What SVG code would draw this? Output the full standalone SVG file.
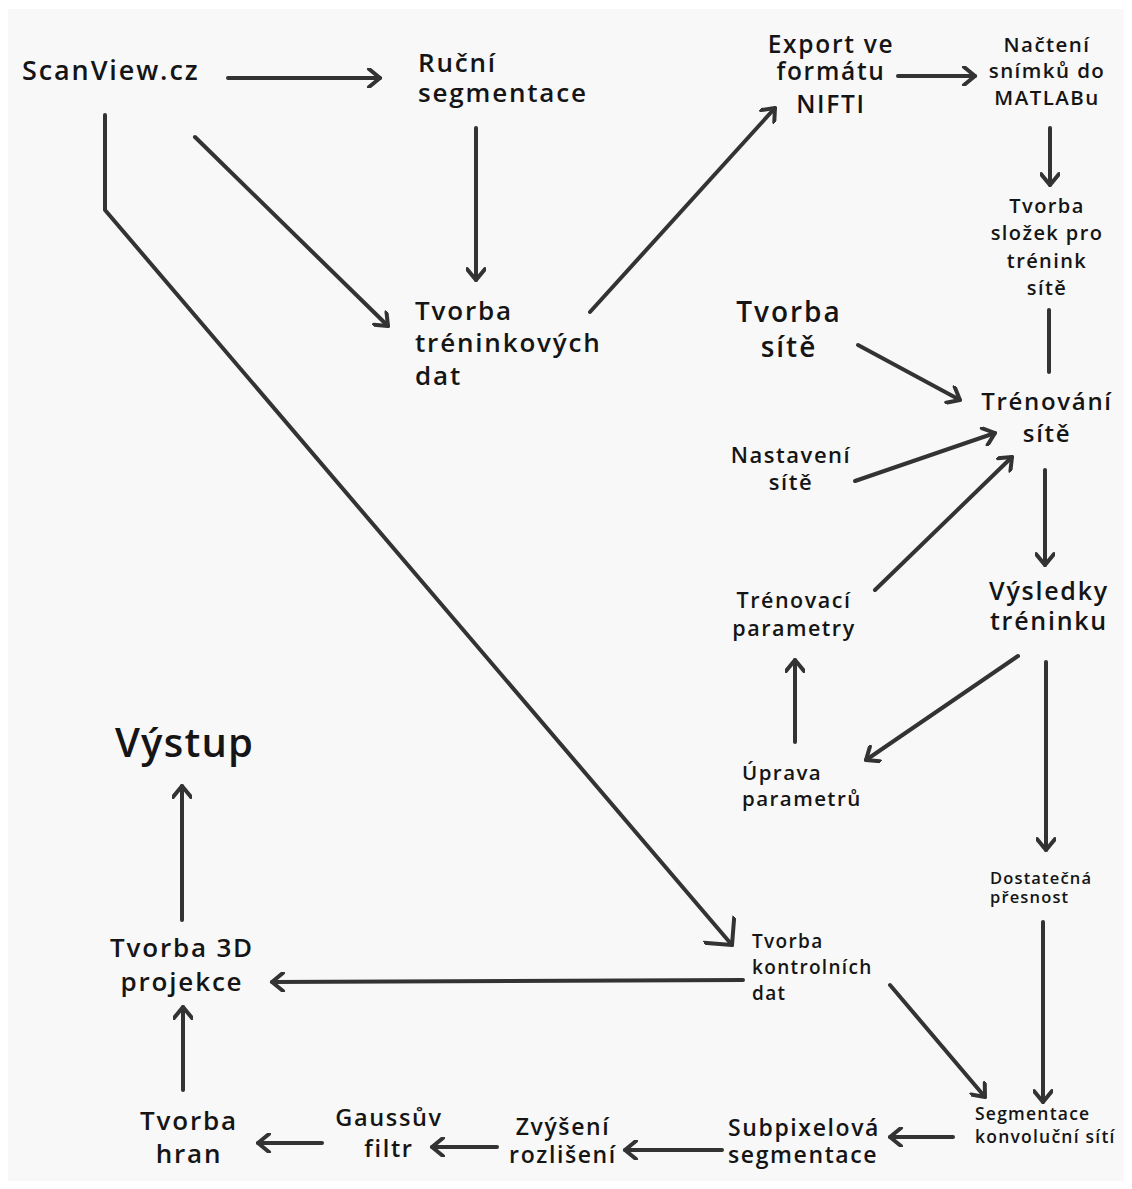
<svg xmlns="http://www.w3.org/2000/svg" width="1132" height="1189" viewBox="0 0 1132 1189">
<defs>
<style>
text{font-family:"Open Sans","DejaVu Sans",sans-serif;font-weight:600;fill:#151515;letter-spacing:0.07em}
.c{text-anchor:middle}
.ln{fill:none;stroke:#333;stroke-width:4;stroke-linecap:round;stroke-linejoin:round}
</style>
<marker id="ah" viewBox="0 0 20 20" refX="17" refY="10" markerWidth="20" markerHeight="20" markerUnits="userSpaceOnUse" orient="auto">
<path d="M6,1 L17,10 L6,19" fill="none" stroke="#333" stroke-width="4" stroke-linecap="round" stroke-linejoin="round"/>
</marker>
<marker id="ahb" viewBox="0 0 40 40" refX="36" refY="20" markerWidth="40" markerHeight="40" markerUnits="userSpaceOnUse" orient="auto">
<path d="M16,0 L36,20 L16,40" fill="none" stroke="#333" stroke-width="4" stroke-linecap="round" stroke-linejoin="round"/>
</marker>
</defs>
<rect width="1132" height="1189" fill="#ffffff"/>
<rect x="8" y="9" width="1116" height="1172" fill="#f8f8f8"/>

<g id="connectors">
<line class="ln" x1="228" y1="78" x2="380" y2="78" marker-end="url(#ah)"/>
<line class="ln" x1="476" y1="128" x2="476" y2="280" marker-end="url(#ah)"/>
<line class="ln" x1="195" y1="137" x2="388" y2="326" marker-end="url(#ah)"/>
<line class="ln" x1="590" y1="312" x2="775" y2="108" marker-end="url(#ah)"/>
<line class="ln" x1="898" y1="76" x2="975" y2="76" marker-end="url(#ah)"/>
<line class="ln" x1="1050" y1="128" x2="1050" y2="185" marker-end="url(#ah)"/>
<line class="ln" x1="1049" y1="310" x2="1049" y2="372"/>
<line class="ln" x1="858" y1="345" x2="960" y2="400" marker-end="url(#ah)"/>
<line class="ln" x1="855" y1="481" x2="995" y2="433" marker-end="url(#ah)"/>
<line class="ln" x1="875" y1="590" x2="1012" y2="457" marker-end="url(#ah)"/>
<line class="ln" x1="1045" y1="470" x2="1045" y2="565" marker-end="url(#ah)"/>
<line class="ln" x1="1018" y1="656" x2="866" y2="760" marker-end="url(#ah)"/>
<line class="ln" x1="795" y1="742" x2="795" y2="660" marker-end="url(#ah)"/>
<line class="ln" x1="1046" y1="662" x2="1046" y2="850" marker-end="url(#ah)"/>
<line class="ln" x1="1043" y1="922" x2="1043" y2="1102" marker-end="url(#ah)"/>
<polyline class="ln" points="105,115 105,210 732,945" marker-end="url(#ahb)"/>
<line class="ln" x1="743" y1="980" x2="272" y2="982" marker-end="url(#ah)"/>
<line class="ln" x1="182" y1="920" x2="182" y2="786" marker-end="url(#ah)"/>
<line class="ln" x1="890" y1="985" x2="985" y2="1097" marker-end="url(#ah)"/>
<line class="ln" x1="953" y1="1137" x2="890" y2="1137" marker-end="url(#ah)"/>
<line class="ln" x1="722" y1="1150" x2="625" y2="1150" marker-end="url(#ah)"/>
<line class="ln" x1="497" y1="1147" x2="432" y2="1147" marker-end="url(#ah)"/>
<line class="ln" x1="322" y1="1143" x2="258" y2="1143" marker-end="url(#ah)"/>
<line class="ln" x1="183" y1="1090" x2="183" y2="1007" marker-end="url(#ah)"/>
</g>

<g id="n-scanview"><text x="22" y="80" font-size="27">ScanView.cz</text></g>
<g id="n-rucni"><text x="418" y="72" font-size="26">Ruční</text><text x="418" y="102" font-size="26">segmentace</text></g>
<g id="n-trenink-data"><text x="415" y="320" font-size="26">Tvorba</text><text x="415" y="352" font-size="26">tréninkových</text><text x="415" y="385" font-size="26">dat</text></g>
<g id="n-export"><text class="c" x="831" y="53" font-size="24.5">Export ve</text><text class="c" x="831" y="80" font-size="24.5">formátu</text><text class="c" x="831" y="113" font-size="24.5">NIFTI</text></g>
<g id="n-nacteni"><text class="c" x="1047" y="52" font-size="20.5">Načtení</text><text class="c" x="1047" y="78" font-size="20.5">snímků do</text><text class="c" x="1047" y="105" font-size="20.5">MATLABu</text></g>
<g id="n-slozky"><text class="c" x="1047" y="213" font-size="20">Tvorba</text><text class="c" x="1047" y="240" font-size="20">složek pro</text><text class="c" x="1047" y="268" font-size="20">trénink</text><text class="c" x="1047" y="295" font-size="20">sítě</text></g>
<g id="n-tvorba-site"><text class="c" x="789" y="322" font-size="28">Tvorba</text><text class="c" x="789" y="357" font-size="28">sítě</text></g>
<g id="n-trenovani"><text class="c" x="1047" y="410" font-size="24">Trénování</text><text class="c" x="1047" y="442" font-size="24">sítě</text></g>
<g id="n-nastaveni"><text class="c" x="791" y="463" font-size="22">Nastavení</text><text class="c" x="791" y="490" font-size="22">sítě</text></g>
<g id="n-trenovaci-param"><text class="c" x="794" y="608" font-size="21.5">Trénovací</text><text class="c" x="794" y="636" font-size="21.5">parametry</text></g>
<g id="n-vysledky"><text class="c" x="1049" y="600" font-size="25">Výsledky</text><text class="c" x="1049" y="630" font-size="25">tréninku</text></g>
<g id="n-uprava"><text x="742" y="780" font-size="20.5">Úprava</text><text x="742" y="806" font-size="20.5">parametrů</text></g>
<g id="n-presnost"><text x="990" y="884" font-size="16.5">Dostatečná</text><text x="990" y="903" font-size="16.5">přesnost</text></g>
<g id="n-kontrolni"><text x="752" y="948" font-size="19">Tvorba</text><text x="752" y="974" font-size="19">kontrolních</text><text x="752" y="1000" font-size="19">dat</text></g>
<g id="n-vystup"><text x="115" y="757" font-size="40" font-weight="700" style="letter-spacing:0.03em">Výstup</text></g>
<g id="n-3d"><text class="c" x="182" y="957" font-size="26">Tvorba 3D</text><text class="c" x="182" y="991" font-size="26">projekce</text></g>
<g id="n-segm-konv"><text x="975" y="1120" font-size="17.5">Segmentace</text><text x="975" y="1143" font-size="17.5">konvoluční sítí</text></g>
<g id="n-subpixel"><text x="728" y="1136" font-size="23">Subpixelová</text><text x="728" y="1163" font-size="23">segmentace</text></g>
<g id="n-zvyseni"><text class="c" x="563" y="1135" font-size="23">Zvýšení</text><text class="c" x="563" y="1163" font-size="23">rozlišení</text></g>
<g id="n-gauss"><text class="c" x="389" y="1126" font-size="23.5">Gaussův</text><text class="c" x="389" y="1157" font-size="23.5">filtr</text></g>
<g id="n-hran"><text class="c" x="189" y="1130" font-size="26">Tvorba</text><text class="c" x="189" y="1163" font-size="26">hran</text></g>
</svg>
